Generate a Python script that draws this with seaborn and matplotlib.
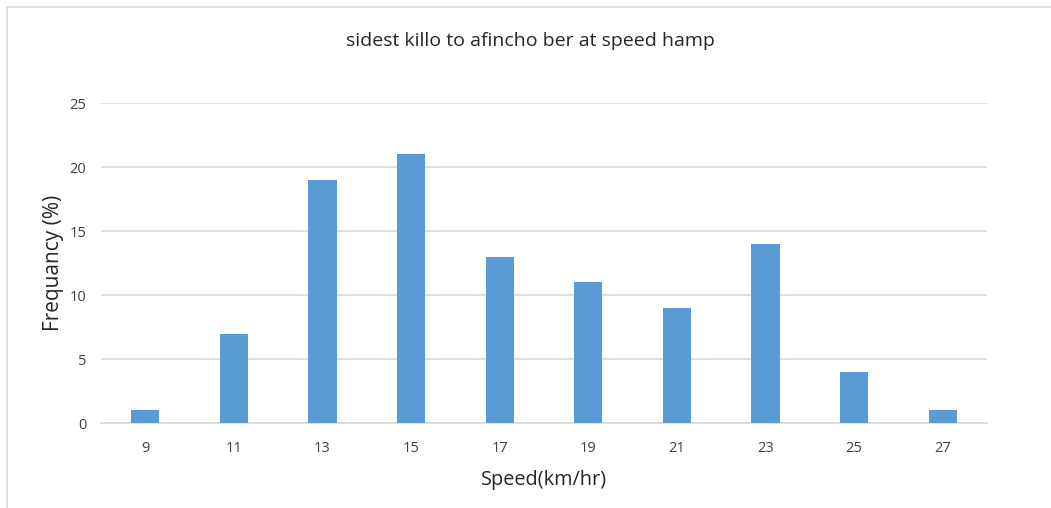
import matplotlib
matplotlib.use("Agg")
import matplotlib.pyplot as plt
import matplotlib.patches as mpatches
import seaborn as sns
import pandas as pd

speeds = ["9", "11", "13", "15", "17", "19", "21", "23", "25", "27"]
frequency = [1, 7, 19, 21, 13, 11, 9, 14, 4, 1]

title = "sidest killo to afincho ber at speed hamp"
x_label = "Speed(km/hr)"
y_label = "Frequancy (%)"

sns.set_theme(style="white")
plt.rcParams["font.family"] = ["Open Sans", "DejaVu Sans"]

df = pd.DataFrame({"speed": speeds, "freq": frequency})

fig = plt.figure(figsize=(10.51, 5.08), dpi=100)
ax = fig.add_axes([0.0961, 0.167, 0.843, 0.630])

sns.barplot(data=df, x="speed", y="freq", color="#5B9BD5", saturation=1,
            width=0.32, linewidth=0, ax=ax, zorder=3)

ax.set_ylim(0, 25)
ax.set_xlim(-0.5, len(speeds) - 0.5)
ax.set_yticks([0, 5, 10, 15, 20, 25])
ax.yaxis.grid(True, color="#D9D9D9", linewidth=1.2, zorder=0)
ax.xaxis.grid(False)
for side in ["top", "right", "left"]:
    ax.spines[side].set_visible(False)
ax.spines["bottom"].set_color("#D9D9D9")
ax.spines["bottom"].set_linewidth(1.2)
ax.tick_params(axis="both", length=0, labelsize=10.5, colors="#404040")
ax.tick_params(axis="x", pad=13)
ax.tick_params(axis="y", pad=10.5)

ax.set_xlabel(x_label, fontsize=14.3, color="#262626", labelpad=10)
ax.set_ylabel(y_label, fontsize=15, color="#262626", labelpad=4)
fig.text(0.505, 0.919, title, ha="center", va="center", fontsize=14,
         color="#262626")

# outer chart frame
frame = mpatches.Rectangle((7 / 1051, -0.1), 1.2, 1 - 7 / 508 + 0.1,
                           transform=fig.transFigure, fill=False,
                           edgecolor="#D9D9D9", linewidth=1.2)
fig.patches.append(frame)

fig.savefig("out.png", dpi=100)
